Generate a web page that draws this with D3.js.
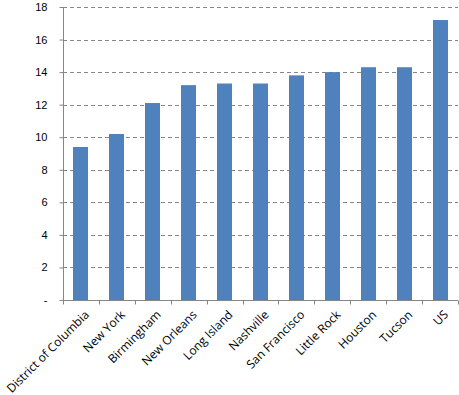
<!DOCTYPE html>
<html>
<head>
<meta charset="utf-8">
<script src="https://cdn.jsdelivr.net/npm/d3@7"></script>
<style>
  body { margin: 0; background: #fff; }
  svg { display: block; }
</style>
</head>
<body>
<svg></svg>
<script>
// chart data
const cities = ["District of Columbia", "New York", "Birmingham", "New Orleans", "Long Island",
  "Nashville", "San Francisco", "Little Rock", "Houston", "Tucson", "US"];
const values = [9.4, 10.2, 12.1, 13.2, 13.3, 13.3, 13.8, 14.0, 14.3, 14.3, 17.2];
const yTicks = [0, 2, 4, 6, 8, 10, 12, 14, 16, 18];

const width = 459, height = 395;
const margin = { top: 7, right: 1, bottom: 95, left: 63 };

const svg = d3.select("svg").attr("width", width).attr("height", height);

const x = d3.scaleBand()
  .domain(cities)
  .range([margin.left, width - margin.right])
  .paddingInner(0.58)
  .paddingOuter(0.29);

const y = d3.scaleLinear()
  .domain([0, 18])
  .range([height - margin.bottom, margin.top]);

// dashed gridlines
svg.append("g")
  .selectAll("line")
  .data(yTicks.filter(d => d > 0))
  .join("line")
  .attr("x1", margin.left)
  .attr("x2", width - margin.right)
  .attr("y1", d => Math.round(y(d)) + 0.5)
  .attr("y2", d => Math.round(y(d)) + 0.5)
  .attr("stroke", "#868686")
  .attr("stroke-dasharray", "4,3");

// bars
svg.append("g")
  .selectAll("rect")
  .data(values)
  .join("rect")
  .attr("x", (d, i) => Math.round(x(cities[i])))
  .attr("width", Math.round(x.bandwidth()))
  .attr("y", d => y(d))
  .attr("height", d => y(0) - y(d))
  .attr("fill", "#4f81bd");

// y axis
const yAxis = svg.append("g")
  .attr("transform", `translate(${margin.left + 0.5},0)`)
  .call(d3.axisLeft(y).tickValues(yTicks).tickSize(4).tickPadding(12)
    .tickFormat(d => d === 0 ? "-" : d));
yAxis.select(".domain").attr("stroke", "#868686").attr("d", `M0,${y(18)}V${y(0)}`);
yAxis.selectAll(".tick line").attr("stroke", "#868686");
yAxis.selectAll(".tick text")
  .attr("fill", "#000")
  .style("font-family", "'Liberation Sans', Arial, sans-serif")
  .style("font-size", "11px");

// x axis
const step = x.step();
const xAxis = svg.append("g")
  .attr("transform", `translate(0,${Math.round(y(0)) + 0.5})`);
xAxis.append("line")
  .attr("x1", margin.left).attr("x2", width - margin.right)
  .attr("stroke", "#868686");
xAxis.selectAll(".xt")
  .data(d3.range(cities.length + 1))
  .join("line")
  .attr("class", "xt")
  .attr("x1", i => Math.round(margin.left + i * step) + 0.5)
  .attr("x2", i => Math.round(margin.left + i * step) + 0.5)
  .attr("y1", 0).attr("y2", 4)
  .attr("stroke", "#868686");
xAxis.selectAll("text")
  .data(cities)
  .join("text")
  .attr("transform", d => `translate(${x(d) + x.bandwidth() / 2 + 3},9) rotate(-45)`)
  .attr("text-anchor", "end")
  .attr("dy", "0.7em")
  .style("font-family", "'Open Sans', 'Liberation Sans', sans-serif")
  .style("font-size", "12px")
  .attr("fill", "#000")
  .text(d => d);
</script>
</body>
</html>
